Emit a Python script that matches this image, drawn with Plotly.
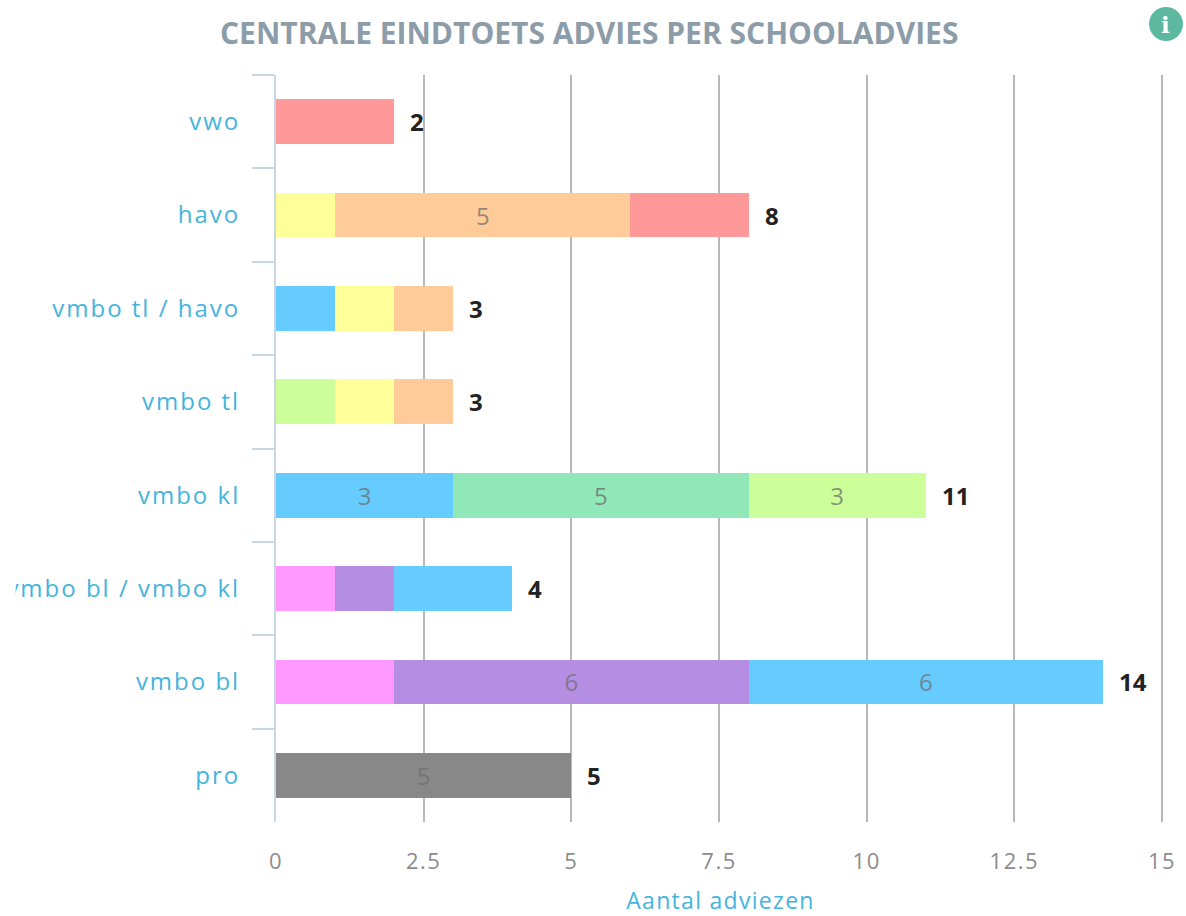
import plotly.graph_objects as go

TITLE = "CENTRALE EINDTOETS ADVIES PER SCHOOLADVIES"
X_TITLE = "Aantal adviezen"
CATEGORIES = ["vwo", "havo", "vmbo tl / havo", "vmbo tl", "vmbo kl", "vmbo bl / vmbo kl", "vmbo bl", "pro"]
TOTALS = [2, 8, 3, 3, 11, 4, 14, 5]
SERIES_NAMES = ["pro", "vmbo bl", "vmbo bl / vmbo kl", "vmbo kl", "gl", "vmbo tl", "vmbo tl / havo", "havo", "vwo"]
PRO = [0, 0, 0, 0, 0, 0, 0, 5]
PINK = [0, 0, 0, 0, 0, 1, 2, 0]
PURPLE = [0, 0, 0, 0, 0, 1, 6, 0]
BLUE = [0, 0, 1, 0, 3, 2, 6, 0]
GREEN = [0, 0, 0, 0, 5, 0, 0, 0]
LIME = [0, 0, 0, 1, 3, 0, 0, 0]
YELLOW = [0, 1, 1, 1, 0, 0, 0, 0]
ORANGE = [0, 5, 1, 1, 0, 0, 0, 0]
RED = [2, 2, 0, 0, 0, 0, 0, 0]
SERIES = [PRO, PINK, PURPLE, BLUE, GREEN, LIME, YELLOW, ORANGE, RED]
COLORS = ["#888888", "#FF99FF", "#B58EE3", "#66CCFF", "#90E8B8", "#CCFF99", "#FFFF99", "#FFCC99", "#FF9999"]
X_TICKS = [0, 2.5, 5, 7.5, 10, 12.5, 15]
X_LABELS = ["0", "2.5", "5", "7.5", "10", "12.5", "15"]

W, H = 1186, 916
L, R, T, B = 275.5, 21, 75, 94
FONT = "Open Sans"
PW = W - L - R
PH = H - T - B

def px(x):
    return (x - L) / PW

def py(y):
    return (H - B - y) / PH

fig = go.Figure()
for name, vals, col in zip(SERIES_NAMES, SERIES, COLORS):
    fig.add_bar(
        y=CATEGORIES, x=vals, orientation="h", name=name, width=0.48,
        marker=dict(color=col, line=dict(width=0)),
        text=[str(v) if v >= 3 else "" for v in vals],
        textposition="inside", insidetextanchor="middle", textangle=0,
        insidetextfont=dict(family=FONT, size=24, color="rgba(110,110,110,0.75)"),
        hoverinfo="x+y",
    )

annotations = [
    dict(x=t, y=c, text=f"<b>{t}</b>", xref="x", yref="y", xanchor="left", xshift=14,
         showarrow=False, font=dict(family=FONT, size=24, color="#222222"))
    for c, t in zip(CATEGORIES, TOTALS)
]
annotations.append(dict(xref="paper", yref="paper", x=px(588.5), y=py(33), text=f"<b>{TITLE}</b>",
                        showarrow=False, xanchor="center", yanchor="middle",
                        font=dict(family=FONT, size=30, color="#8C9CA8")))
annotations.append(dict(xref="paper", yref="paper", x=px(1166), y=py(24), text="<b>i</b>",
                        showarrow=False, xanchor="center", yanchor="middle",
                        font=dict(family="DejaVu Serif", size=23, color="#FFFFFF")))

fig.update_layout(
    width=W, height=H, autosize=False, barmode="stack", bargap=0.52,
    showlegend=False, plot_bgcolor="white", paper_bgcolor="white",
    margin=dict(l=L, r=R, t=T, b=B, autoexpand=False),
    annotations=annotations,
    shapes=[
        dict(type="rect", xref="paper", yref="paper", x0=px(0), x1=px(15), y0=py(620), y1=py(560),
             fillcolor="white", line=dict(width=0), layer="above"),
        dict(type="circle", xref="paper", yref="paper", x0=px(1149), x1=px(1183), y0=py(41), y1=py(7),
             fillcolor="#5DB8A0", line=dict(width=0), layer="above"),
    ],
    xaxis=dict(
        range=[0, 15.05], tickvals=X_TICKS, ticktext=X_LABELS, showgrid=True, gridcolor="#B8B8B8", gridwidth=1.5,
        zeroline=False, showline=False, ticks="", ticklabelstandoff=24,
        tickfont=dict(family=FONT, size=22, color="#8C8C8C"),
        title=dict(text=X_TITLE, font=dict(family=FONT, size=23, color="#45B4DC"), standoff=20),
    ),
    yaxis=dict(
        type="category", categoryorder="array", categoryarray=CATEGORIES, autorange="reversed",
        tickson="boundaries", ticks="outside", ticklen=22, tickwidth=2, tickcolor="#C9D6E6",
        showline=True, linecolor="#C9D6E6", linewidth=2, showgrid=False, zeroline=False,
        ticklabelstandoff=29,
        tickfont=dict(family=FONT, size=24, color="#45B4DC"),
    ),
)
POST = """
document.body.style.margin = '0';
document.documentElement.style.overflow = 'hidden';
var s = document.createElement('style');
s.textContent = '.ytick text{letter-spacing:2px}.xtick text{letter-spacing:1.5px}.xtitle{letter-spacing:1.3px}';
document.head.appendChild(s);
"""
fig.write_html("out.html", post_script=POST, config={"displayModeBar": False})
